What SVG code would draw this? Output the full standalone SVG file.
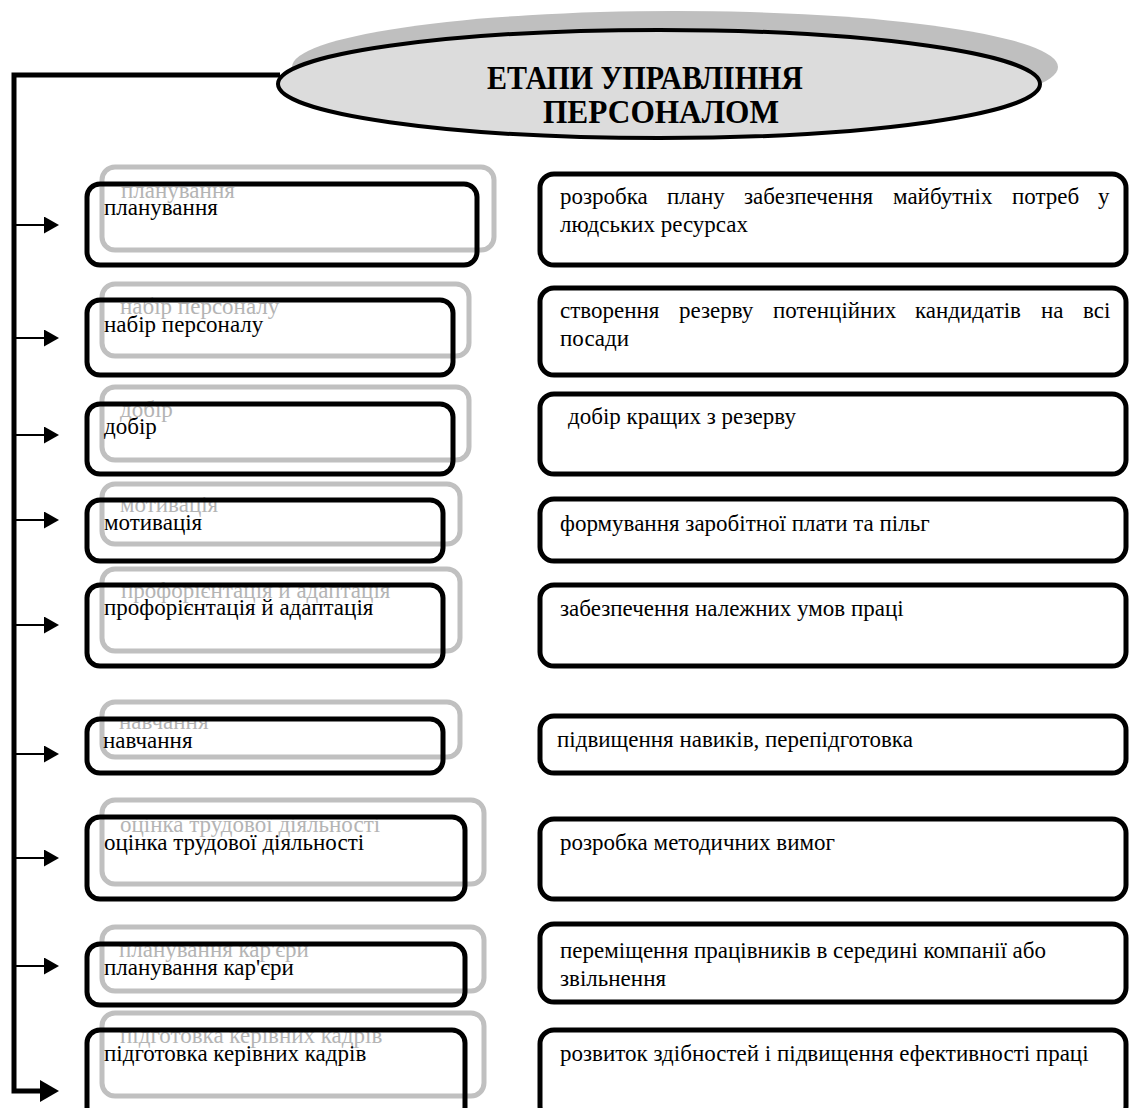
<svg xmlns="http://www.w3.org/2000/svg" width="1133" height="1108" viewBox="0 0 1133 1108">
  <defs>
    <style>
      text { font-family: "Liberation Serif", "Times New Roman", serif; }
      .title { font-size: 33px; font-weight: bold; fill: #000; text-anchor: middle; }
      .lbl { font-size: 23px; fill: #000; }
      .ghost { font-size: 23px; fill: #b4b4b4; }
      .gbox { fill: none; stroke: #c0c0c0; stroke-width: 5; }
      .bbox { fill: none; stroke: #000; stroke-width: 5; }
      .rbox { fill: #fff; stroke: #000; stroke-width: 5; }
      .wire { fill: none; stroke: #000; stroke-width: 5; stroke-linejoin: miter; }
      .tick { stroke: #000; stroke-width: 2; }
    </style>
    <marker id="head" markerUnits="userSpaceOnUse" markerWidth="16" markerHeight="17" refX="0" refY="8.5" orient="auto">
      <path d="M0,0 L15,8.5 L0,17 Z" fill="#000"/>
    </marker>
    <marker id="head-big" markerUnits="userSpaceOnUse" markerWidth="20" markerHeight="22" refX="0" refY="11" orient="auto">
      <path d="M0,0 L19,11 L0,22 Z" fill="#000"/>
    </marker>
  </defs>

  <!-- title oval with offset shadow -->
  <g id="title">
    <ellipse cx="675" cy="67" rx="383" ry="56" fill="#bfbfbf"/>
    <ellipse cx="659" cy="84" rx="381" ry="54" fill="#dcdcdc" stroke="#000" stroke-width="4"/>
    <text class="title" x="645" y="89" textLength="316" lengthAdjust="spacingAndGlyphs">ЕТАПИ УПРАВЛІННЯ</text>
    <text class="title" x="661" y="123" textLength="236" lengthAdjust="spacingAndGlyphs">ПЕРСОНАЛОМ</text>
  </g>

  <!-- trunk line and branch arrows -->
  <g id="connectors">
    <polyline class="wire" points="280,75 14,75 14,1091 40,1091" marker-end="url(#head-big)"/>
    <line class="tick" x1="14" y1="225" x2="44" y2="225" marker-end="url(#head)"/>
    <line class="tick" x1="14" y1="338" x2="44" y2="338" marker-end="url(#head)"/>
    <line class="tick" x1="14" y1="435" x2="44" y2="435" marker-end="url(#head)"/>
    <line class="tick" x1="14" y1="520" x2="44" y2="520" marker-end="url(#head)"/>
    <line class="tick" x1="14" y1="625" x2="44" y2="625" marker-end="url(#head)"/>
    <line class="tick" x1="14" y1="754" x2="44" y2="754" marker-end="url(#head)"/>
    <line class="tick" x1="14" y1="858" x2="44" y2="858" marker-end="url(#head)"/>
    <line class="tick" x1="14" y1="966" x2="44" y2="966" marker-end="url(#head)"/>
  </g>

  <!-- stages: each one is a faint offset copy under a bold frame -->
  <g id="stage-1">
    <rect class="gbox" x="102" y="167" width="392" height="83" rx="13"/>
    <text class="ghost" x="121" y="198">планування</text>
    <rect class="bbox" x="87" y="184" width="390" height="81" rx="13"/>
    <text class="lbl" x="104" y="215">планування</text>
  </g>
  <g id="stage-2">
    <rect class="gbox" x="102" y="284" width="367" height="72" rx="13"/>
    <text class="ghost" x="120" y="314">набір персоналу</text>
    <rect class="bbox" x="87" y="300" width="366" height="75" rx="13"/>
    <text class="lbl" x="104" y="332">набір персоналу</text>
  </g>
  <g id="stage-3">
    <rect class="gbox" x="102" y="387" width="367" height="73" rx="13"/>
    <text class="ghost" x="120" y="417">добір</text>
    <rect class="bbox" x="87" y="404" width="366" height="70" rx="13"/>
    <text class="lbl" x="104" y="434">добір</text>
  </g>
  <g id="stage-4">
    <rect class="gbox" x="102" y="484" width="358" height="60" rx="13"/>
    <text class="ghost" x="120" y="512">мотивація</text>
    <rect class="bbox" x="87" y="500" width="356" height="61" rx="13"/>
    <text class="lbl" x="104" y="530">мотивація</text>
  </g>
  <g id="stage-5">
    <rect class="gbox" x="102" y="569" width="358" height="82" rx="13"/>
    <text class="ghost" x="121" y="598">профорієнтація и адаптація</text>
    <rect class="bbox" x="87" y="585" width="356" height="81" rx="13"/>
    <text class="lbl" x="104" y="615">профорієнтація й адаптація</text>
  </g>
  <g id="stage-6">
    <rect class="gbox" x="102" y="702" width="358" height="55" rx="13"/>
    <text class="ghost" x="119" y="729">навчання</text>
    <rect class="bbox" x="87" y="719" width="356" height="54" rx="13"/>
    <text class="lbl" x="103" y="748">навчання</text>
  </g>
  <g id="stage-7">
    <rect class="gbox" x="102" y="800" width="382" height="84" rx="13"/>
    <text class="ghost" x="120" y="832">оцінка трудової діяльності</text>
    <rect class="bbox" x="87" y="817" width="378" height="82" rx="13"/>
    <text class="lbl" x="104" y="850">оцінка трудової діяльності</text>
  </g>
  <g id="stage-8">
    <rect class="gbox" x="102" y="927" width="382" height="64" rx="13"/>
    <text class="ghost" x="119" y="957">планування кар'єри</text>
    <rect class="bbox" x="87" y="944" width="378" height="61" rx="13"/>
    <text class="lbl" x="104" y="975">планування кар'єри</text>
  </g>
  <g id="stage-9">
    <rect class="gbox" x="102" y="1013" width="382" height="83" rx="13"/>
    <text class="ghost" x="120" y="1043">підготовка керівних кадрів</text>
    <rect class="bbox" x="87" y="1030" width="378" height="90" rx="13"/>
    <text class="lbl" x="104" y="1061">підготовка керівних кадрів</text>
  </g>

  <!-- descriptions -->
  <g id="desc-1">
    <rect class="rbox" x="540" y="174" width="586" height="91" rx="14"/>
    <text class="lbl" y="204"><tspan x="560">розробка</tspan><tspan x="667">плану</tspan><tspan x="744">забезпечення</tspan><tspan x="893">майбутніх</tspan><tspan x="1012">потреб</tspan><tspan x="1098">у</tspan></text>
    <text class="lbl" x="560" y="232">людських ресурсах</text>
  </g>
  <g id="desc-2">
    <rect class="rbox" x="540" y="288" width="586" height="87" rx="14"/>
    <text class="lbl" y="318"><tspan x="560">створення</tspan><tspan x="679">резерву</tspan><tspan x="773">потенційних</tspan><tspan x="915">кандидатів</tspan><tspan x="1041">на</tspan><tspan x="1083">всі</tspan></text>
    <text class="lbl" x="560" y="346">посади</text>
  </g>
  <g id="desc-3">
    <rect class="rbox" x="540" y="394" width="586" height="80" rx="14"/>
    <text class="lbl" x="568" y="424">добір кращих з резерву</text>
  </g>
  <g id="desc-4">
    <rect class="rbox" x="540" y="499" width="586" height="62" rx="14"/>
    <text class="lbl" x="560" y="531">формування заробітної плати та пільг</text>
  </g>
  <g id="desc-5">
    <rect class="rbox" x="540" y="585" width="586" height="81" rx="14"/>
    <text class="lbl" x="560" y="616">забезпечення належних умов праці</text>
  </g>
  <g id="desc-6">
    <rect class="rbox" x="540" y="716" width="586" height="57" rx="14"/>
    <text class="lbl" x="557" y="747">підвищення навиків, перепідготовка</text>
  </g>
  <g id="desc-7">
    <rect class="rbox" x="540" y="819" width="586" height="80" rx="14"/>
    <text class="lbl" x="560" y="850">розробка методичних вимог</text>
  </g>
  <g id="desc-8">
    <rect class="rbox" x="540" y="924" width="586" height="78" rx="14"/>
    <text class="lbl" x="560" y="958">переміщення працівників в середині компанії або</text>
    <text class="lbl" x="560" y="986">звільнення</text>
  </g>
  <g id="desc-9">
    <rect class="rbox" x="540" y="1030" width="586" height="90" rx="14"/>
    <text class="lbl" x="560" y="1061">розвиток здібностей і підвищення ефективності праці</text>
  </g>
</svg>
